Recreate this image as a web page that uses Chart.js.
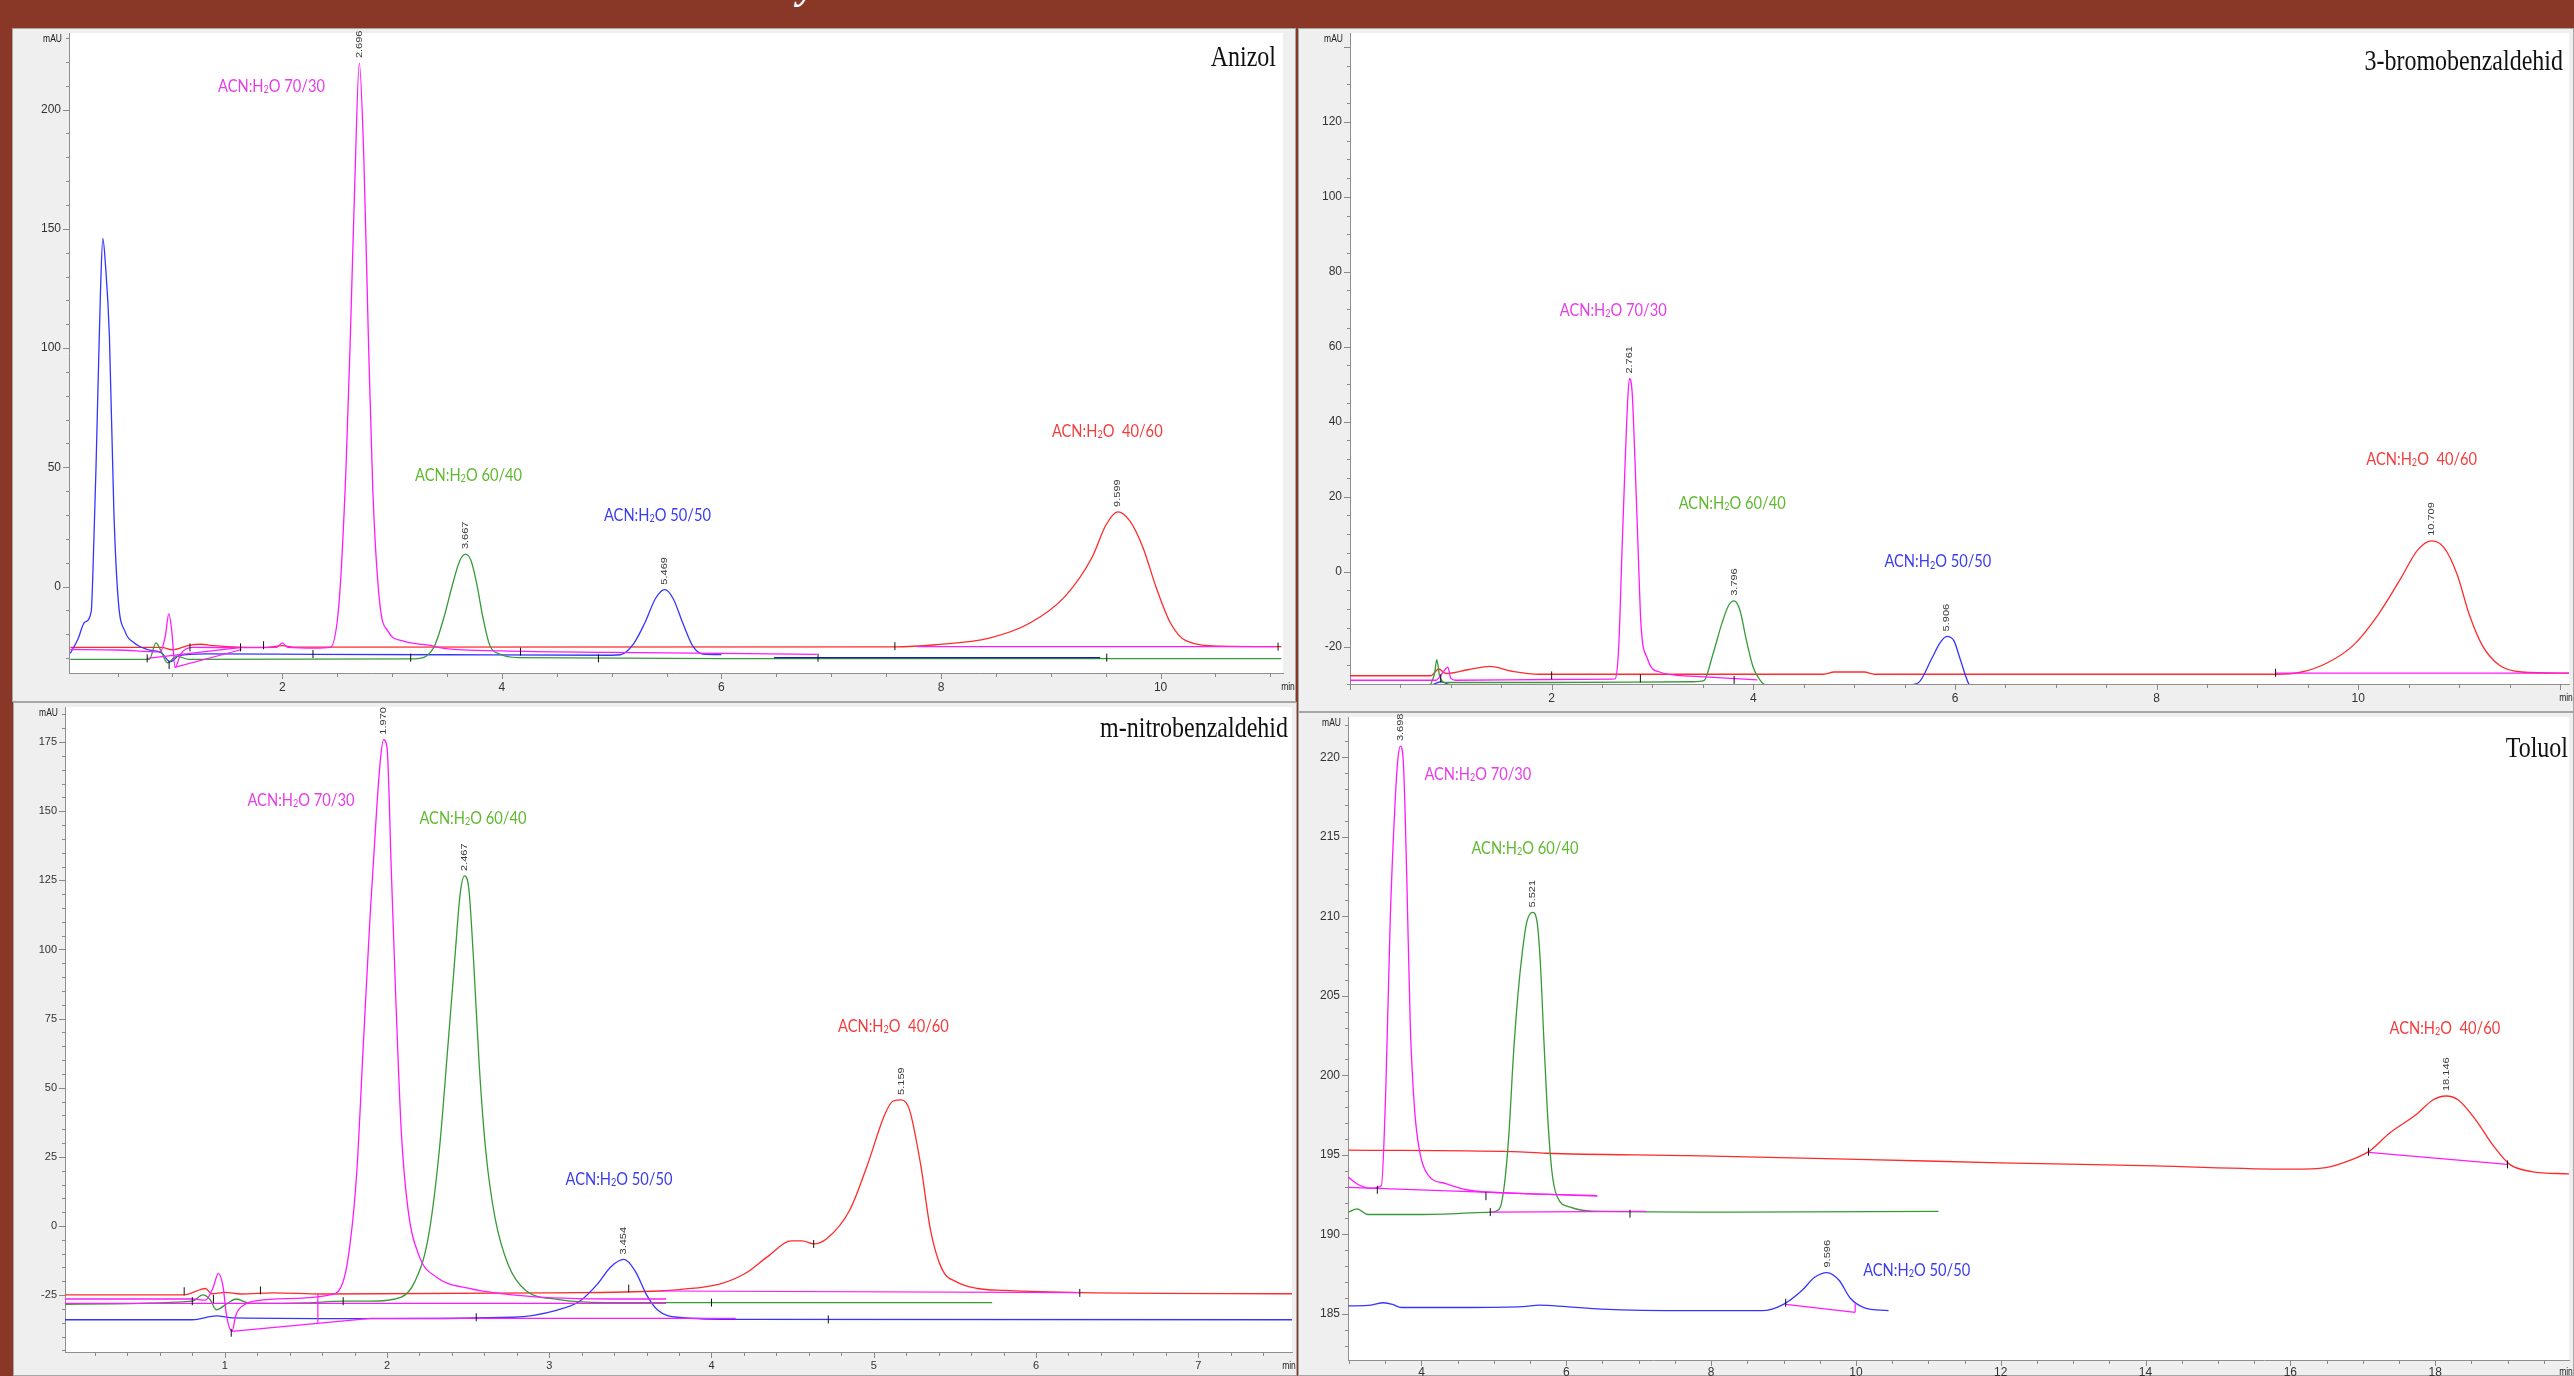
<!DOCTYPE html>
<html>
<head>
<meta charset="utf-8">
<title>HPLC chromatograms</title>
<script src="https://cdn.jsdelivr.net/npm/chart.js@4.4.1/dist/chart.umd.min.js"></script>
<style>
  html, body { margin: 0; padding: 0; }
  body { width: 2574px; height: 1376px; background: #893828; position: relative; overflow: hidden; }
  .panel { position: absolute; background: #efefef; box-shadow: inset 0 0 0 1px #a6a6a6; }
  .panel canvas { position: absolute; left: 0; top: 0; }
  #cut { position: absolute; left: 0; top: 0; width: 2574px; height: 28px; overflow: hidden; }
  #cut span { position: absolute; left: 798px; bottom: 23px; font: italic bold 40px "Liberation Serif", serif; color: #fff; line-height: 1; }
</style>
</head>
<body>
<div id="cut"><span>y</span></div>
<div class="panel" style="left:12px;top:28px;width:1284px;height:674px"><canvas id="c1" width="1284" height="674"></canvas></div>
<div class="panel" style="left:1298px;top:28px;width:1276px;height:684px"><canvas id="c2" width="1276" height="684"></canvas></div>
<div class="panel" style="left:13px;top:702px;width:1284px;height:674px"><canvas id="c3" width="1284" height="674"></canvas></div>
<div class="panel" style="left:1298px;top:712px;width:1276px;height:664px"><canvas id="c4" width="1276" height="664"></canvas></div>

<script>
// [time (min), signal (mAU)]
// order of the traces in every panel: 70/30, 60/40, 50/50, 40/60

// ---- Anizol ----
const anizolMag = [[0.07,-26.4],[0.5,-26.6],[0.89,-27.4],[0.935,-20.8],[0.967,-11.5],[0.995,-19],[1.024,-33.9],[1.076,-28.3],[1.18,-25.5],[1.6,-25.6],[1.95,-25.5],[2.0,-23.6],[2.05,-25.5],[2.3,-25.8],[2.438,-25.5],[2.519,-6],[2.581,49.9],[2.621,105.7],[2.662,170.8],[2.702,219.5],[2.743,180.1],[2.784,105.7],[2.825,40.6],[2.886,-6],[2.967,-19],[3.09,-22.7],[3.333,-24.6],[3.49,-26],[4.0,-27],[5.0,-27.6],[6.87,-28.4]];
const anizolGreen = [[0.07,-30.5],[0.79,-30.5],[0.85,-23.6],[0.89,-26.4],[0.955,-32],[1.04,-29.2],[1.15,-30.5],[3.2,-30.3],[3.31,-29.2],[3.39,-24.6],[3.47,-13.4],[3.555,1.5],[3.617,10.8],[3.67,13.6],[3.72,10.8],[3.77,1.5],[3.83,-13.4],[3.89,-24.6],[3.98,-28.3],[4.15,-29.8],[6.0,-30.2],[11.1,-30.2]];
const anizolBlue = [[0.07,-28],[0.14,-22],[0.2,-15],[0.26,-10.6],[0.285,20],[0.304,50],[0.324,87],[0.345,124],[0.366,146],[0.39,135],[0.426,105],[0.467,31],[0.507,-6],[0.57,-19],[0.65,-23.6],[0.77,-26.4],[0.9,-27.8],[0.98,-31.5],[1.06,-29],[1.3,-28.2],[2.3,-28.4],[3.5,-28.6],[5.0,-28.8],[5.08,-28.6],[5.2,-24],[5.3,-15.5],[5.4,-5],[5.484,-1.3],[5.56,-5],[5.65,-15.5],[5.74,-25],[5.83,-28.3],[6.0,-28.5]];
const anizolRed = [[0.07,-25.5],[0.9,-25.5],[1.0,-26.5],[1.14,-24.8],[1.26,-24.2],[1.38,-24.8],[1.6,-25.4],[1.85,-25.5],[2.0,-24.8],[2.1,-25.4],[7.58,-25.3],[7.95,-24.4],[8.44,-21.6],[8.81,-15.3],[9.13,-4.1],[9.38,12.6],[9.5,25.6],[9.61,31.3],[9.72,27.5],[9.84,16.3],[9.96,-0.4],[10.09,-15.3],[10.23,-22.7],[10.55,-25],[11.1,-25.2]];
const anizolBaseMag = [[[0.77,-30.1],[1.63,-25.5]], [[1.02,-33.9],[1.63,-26.4]], [[7.78,-25.2],[11.05,-25.2]]];
const anizolBaseBlue = [[[6.48,-29.8],[9.45,-29.8]]];
const anizolMarks = [[0.77,-30.1],[0.97,-32.9],[1.16,-25.5],[1.62,-25.5],[1.83,-24.6],[2.28,-28.3],[3.17,-29.8],[4.17,-27.3],[4.88,-30.1],[6.88,-29.8],[7.58,-25],[9.51,-29.8],[11.07,-25.2]];
const anizolPeaks = [[2.702,219.5,'2.696'],[3.67,13.6,'3.667'],[5.484,-1.3,'5.469'],[9.61,31.3,'9.599']];
const anizolMixAt = [[1.415,207.5],[3.21,44.2],[4.93,27.5],[9.01,62.9]];

// ---- 3-bromobenzaldehid ----
const bromoMag = [[0,-29],[0.85,-29],[0.92,-27],[0.97,-25.5],[1.0,-28.5],[1.05,-29],[2.0,-28.8],[2.6,-28.7],[2.63,-28.6],[2.666,-19.7],[2.696,4.1],[2.727,27.8],[2.754,45.6],[2.771,51.5],[2.798,47.9],[2.829,27.8],[2.86,4.1],[2.885,-13.7],[2.95,-23.2],[3.07,-26.8],[3.38,-27.9],[4.04,-28.9]];
const bromoGreen = [[0.8,-30.2],[0.84,-27],[0.86,-23.5],[0.89,-28],[0.95,-29.6],[2.0,-29.6],[3.4,-29.4],[3.51,-29.1],[3.6,-22],[3.69,-13.7],[3.756,-9],[3.81,-7.8],[3.866,-10.2],[3.933,-18.5],[4.0,-25.6],[4.09,-29.7],[4.15,-30.5]];
const bromoBlue = [[0.8,-30.5],[0.9,-29.4],[1.0,-30.2],[5.5,-30.3],[5.63,-29.8],[5.77,-23.2],[5.85,-19.1],[5.92,-17.3],[5.99,-18.5],[6.05,-23.2],[6.14,-30.1],[6.2,-31]];
const bromoRed = [[0,-27.8],[0.8,-27.8],[0.88,-26],[0.95,-27.2],[1.17,-26.2],[1.39,-25.3],[1.61,-26.6],[1.88,-27.4],[4.7,-27.4],[4.8,-26.8],[5.1,-26.8],[5.2,-27.4],[9.18,-27.4],[9.44,-26.8],[9.69,-24.4],[9.95,-19.7],[10.2,-11.4],[10.42,-1.9],[10.59,5.8],[10.73,8.2],[10.85,6.4],[10.98,-0.7],[11.1,-11.4],[11.23,-19.7],[11.4,-25],[11.62,-26.8],[12.09,-27.1]];
const bromoBaseMag = [[[9.18,-27.1],[12.09,-27.1]]];
const bromoMarks = [[0.9,-28.5],[2.0,-27.7],[2.88,-28.5],[3.81,-28.9],[9.18,-27]];
const bromoPeaks = [[2.771,51.5,'2.761'],[3.81,-7.8,'3.796'],[5.92,-17.3,'5.906'],[10.73,8.2,'10.709']];
const bromoMixAt = [[2.08,68.3],[3.26,16.7],[5.3,1.1],[10.08,28.4]];

// ---- m-nitrobenzaldehid ----
const nitroMag = [[0.015,-26.4],[0.8,-26.4],[0.88,-26.8],[0.93,-22],[0.96,-17.1],[0.99,-22],[1.01,-32],[1.044,-38.1],[1.07,-32],[1.12,-28.5],[1.2,-27],[1.5,-26],[1.648,-24.9],[1.703,-23.4],[1.758,-12.5],[1.813,18.8],[1.854,65.5],[1.896,112.3],[1.937,151.3],[1.959,168.4],[1.978,175.9],[2.0,173.1],[2.027,127.9],[2.055,81.1],[2.088,34.3],[2.129,6.3],[2.198,-10.8],[2.308,-18.6],[2.5,-22.5],[2.912,-25.6],[3.516,-26.4],[3.72,-26.4]];
const nitroGreen = [[0.015,-28.3],[0.8,-27.2],[0.865,-24.9],[0.907,-26.4],[0.948,-30.3],[1.016,-28],[1.07,-26.4],[1.154,-28],[1.5,-27.8],[1.73,-27.2],[1.896,-27.2],[2.088,-25.7],[2.17,-20.3],[2.253,-4.6],[2.321,26.5],[2.376,65.5],[2.418,96.7],[2.451,120.1],[2.478,126.6],[2.505,121.6],[2.533,96.7],[2.569,57.7],[2.61,26.5],[2.665,3.2],[2.747,-14],[2.857,-23.4],[3.05,-26.5],[3.35,-27.7],[5.73,-27.7]];
const nitroBlue = [[0.015,-33.9],[0.8,-33.9],[0.95,-32.5],[1.05,-33.2],[2.0,-33.5],[2.775,-33],[3.05,-30.4],[3.187,-27.2],[3.297,-21],[3.379,-14.8],[3.46,-12.1],[3.53,-16.3],[3.6,-24.9],[3.668,-30.4],[3.79,-33],[4.2,-33.8],[7.58,-33.9]];
const nitroRed = [[0.015,-24.9],[0.75,-24.9],[0.85,-23],[0.88,-22.6],[0.92,-24.5],[1.0,-24],[1.1,-24.6],[1.3,-24.2],[1.6,-24.6],[3.0,-24.2],[3.68,-23.5],[3.8,-23],[4.05,-21],[4.21,-17.1],[4.35,-10.9],[4.49,-5.4],[4.56,-5.4],[4.63,-6.5],[4.71,-4.6],[4.85,5.5],[4.96,21.9],[5.07,40.6],[5.12,45.2],[5.17,45.6],[5.22,42.1],[5.29,21.9],[5.35,-1.5],[5.42,-15.5],[5.51,-20.2],[5.64,-22.6],[5.81,-23.3],[6.28,-24.1],[7.58,-24.5]];
const nitroBaseMag = [[[0.015,-28.0],[3.72,-28.0]], [[1.044,-38.1],[1.9,-33.4]], [[1.9,-33.4],[4.15,-33.4]], [[1.574,-24.6],[1.574,-35]], [[3.68,-23.5],[6.27,-24.1]]];
const nitroMarks = [[0.75,-23.6],[0.8,-27.2],[0.93,-26.4],[1.04,-38.6],[1.22,-23.3],[1.73,-27.2],[2.55,-33],[3.49,-22.6],[4.0,-27.7],[4.63,-6.5],[4.72,-33.8],[6.27,-24.2]];
const nitroPeaks = [[1.978,175.9,'1.970'],[2.478,126.6,'2.467'],[3.46,-12.1,'3.454'],[5.17,45.6,'5.159']];
const nitroMixAt = [[1.14,151.9],[2.2,145.4],[3.1,14.8],[4.78,70.2]];

// ---- Toluol ----
const toluolMag = [[2.99,193.6],[3.1,193.2],[3.3,192.9],[3.446,193.06],[3.507,199.13],[3.569,209.9],[3.63,216.66],[3.674,219.9],[3.71,220.7],[3.753,219.36],[3.796,212.6],[3.845,203.17],[3.906,197.78],[3.98,195.08],[4.09,193.74],[4.336,193.19],[4.643,192.79],[5.258,192.59],[6.425,192.44]];
const toluolGreen = [[2.99,191.4],[3.11,191.6],[3.26,191.25],[4.03,191.25],[4.95,191.4],[5.073,191.58],[5.147,193.19],[5.209,196.43],[5.27,201.29],[5.332,205.06],[5.393,207.76],[5.455,209.65],[5.535,210.24],[5.596,209.65],[5.64,207.22],[5.689,202.37],[5.738,197.78],[5.8,194.0],[5.873,192.38],[6.057,191.71],[6.364,191.46],[8.33,191.4],[11.14,191.45]];
const toluolBlue = [[2.99,185.5],[3.3,185.55],[3.477,185.7],[3.6,185.6],[3.72,185.4],[4.64,185.4],[5.4,185.45],[5.63,185.55],[6.0,185.45],[6.49,185.3],[7.71,185.2],[8.7,185.2],[9.0,185.6],[9.25,186.45],[9.43,187.3],[9.6,187.6],[9.77,187.1],[9.92,186.0],[10.11,185.4],[10.45,185.2]];
const toluolRed = [[2.99,195.3],[5.26,195.2],[5.72,195.1],[7.71,194.95],[10.17,194.7],[11.99,194.5],[14.13,194.3],[16.02,194.1],[16.49,194.2],[16.85,194.7],[17.08,195.2],[17.38,196.4],[17.73,197.5],[17.97,198.45],[18.15,198.7],[18.32,198.45],[18.56,197.2],[18.8,195.6],[19.03,194.4],[19.33,193.95],[19.85,193.8]];
const toluolBaseMag = [[[2.99,192.95],[6.43,192.4]], [[4.95,191.4],[7.1,191.45]], [[9.03,185.6],[9.99,185.1]], [[9.99,185.1],[9.99,185.7]], [[17.08,195.15],[19.0,194.4]]];
const toluolMarks = [[3.39,192.8],[4.89,192.4],[4.95,191.4],[6.88,191.3],[9.03,185.7],[17.08,195.2],[19.0,194.4]];
const toluolPeaks = [[3.71,220.7,'3.698'],[5.535,210.24,'5.521'],[9.6,187.6,'9.596'],[18.15,198.7,'18.146']];
const toluolMixAt = [[4.04,218.6],[4.69,213.9],[10.1,187.4],[17.37,202.6]];

const mixRatios = ['70/30', '60/40', '50/50', ' 40/60'];
const mixColors = ['#e63ee6', '#5fb92f', '#3b3bf0', '#f23d3d'];
const traceColors = ['#ff1aff', '#379a37', '#3535ff', '#ff2b2b'];

const tickFamily = '"Liberation Sans Narrow", "Liberation Sans", Arial, sans-serif';

const panels = [
  { id: 'c1', title: 'Anizol', traces: [anizolMag, anizolGreen, anizolBlue, anizolRed],
    bases: [[anizolBaseMag, '#ff1aff'], [anizolBaseBlue, '#1a1ab0']], marks: anizolMarks,
    peaks: anizolPeaks, mixAt: anizolMixAt,
    x: { min: 0.058, max: 11.115, minor: 0.5, major: 2, labelMin: 1, labelMax: 11 },
    y: { min: -36.25, max: 232.1, minor: 10, major: 50, labelMax: 230 },
    box: { left: 57, top: 1, right: 13, bottom: 29 }, pad: 7, font: 12,
    titleAt: { dx: 7, dy: 33 } },
  { id: 'c2', title: '3-bromobenzaldehid', traces: [bromoMag, bromoGreen, bromoBlue, bromoRed],
    bases: [[bromoBaseMag, '#ff1aff']], marks: bromoMarks,
    peaks: bromoPeaks, mixAt: bromoMixAt,
    x: { min: 0, max: 12.09, minor: 0.5, major: 2, labelMin: 1, labelMax: 11.5 },
    y: { min: -30.0, max: 143.7, minor: 5, major: 20, labelMax: 130 },
    box: { left: 52, top: 2, right: 2, bottom: 28 }, pad: 7, font: 12,
    titleAt: { dx: 6, dy: 37 } },
  { id: 'c3', title: 'm-nitrobenzaldehid', traces: [nitroMag, nitroGreen, nitroBlue, nitroRed],
    bases: [[nitroBaseMag, '#ff1aff']], marks: nitroMarks,
    peaks: nitroPeaks, mixAt: nitroMixAt,
    x: { min: 0.0154, max: 7.578, minor: 0.2, major: 1, labelMin: 0.5, labelMax: 7.2 },
    y: { min: -45.57, max: 187.7, minor: 5, major: 25, labelMax: 180 },
    box: { left: 52, top: 5, right: 3, bottom: 24 }, pad: 7, font: 11,
    titleAt: { dx: 4, dy: 30 } },
  { id: 'c4', title: 'Toluol', traces: [toluolMag, toluolGreen, toluolBlue, toluolRed],
    bases: [[toluolBaseMag, '#ff1aff']], marks: toluolMarks,
    peaks: toluolPeaks, mixAt: toluolMixAt,
    x: { min: 2.985, max: 19.849, minor: 0.5, major: 2, labelMin: 3.5, labelMax: 19 },
    y: { min: 182.1, max: 222.53, minor: 1, major: 5, labelMax: 221 },
    box: { left: 50, top: 2, right: 0, bottom: 16 }, pad: 5, font: 12,
    titleAt: { dx: 1, dy: 40 } }
];

function onStep(v, step) {
  return Math.abs(v / step - Math.round(v / step)) < 1e-6;
}

function squeeze(ctx, text, x, y, sx, align) {
  ctx.save();
  ctx.translate(x, y);
  ctx.scale(sx, 1);
  ctx.textAlign = align;
  ctx.fillText(text, 0, 0);
  ctx.restore();
}

// "ACN:H2O 70/30" with a small 2
function mixParts(ratio) {
  return [['ACN:H', 1, 0], ['2', 0.62, 0.06], ['O ' + ratio, 1, 0]];
}
function drawMix(ctx, x, y, ratio, color, size, sx, measureOnly) {
  ctx.save();
  ctx.translate(x, y);
  ctx.scale(sx, 1);
  ctx.fillStyle = color;
  ctx.textAlign = 'left';
  ctx.textBaseline = 'alphabetic';
  let cx = 0;
  mixParts(ratio).forEach(([s, k, dy]) => {
    ctx.font = (size * k).toFixed(1) + 'px Lato, "Open Sans", sans-serif';
    if (!measureOnly) ctx.fillText(s, cx, dy * size);
    cx += ctx.measureText(s).width;
  });
  ctx.restore();
  return cx;
}

function overlay(p) {
  return {
    id: 'overlay_' + p.id,
    beforeDraw(chart) {
      const { ctx, chartArea: a } = chart;
      ctx.save();
      ctx.fillStyle = '#ffffff';
      ctx.fillRect(a.left, a.top, a.right - a.left, a.bottom - a.top);
      ctx.restore();
    },
    afterDraw(chart) {
      const { ctx, chartArea: a } = chart;
      const xs = chart.scales.x, ys = chart.scales.y;
      ctx.save();

      // tick marks, long ones where there is a label
      ctx.strokeStyle = '#8a8a8a';
      ctx.lineWidth = 1;
      ctx.beginPath();
      xs.ticks.forEach(t => {
        if (!onStep(t.value, p.x.minor)) return;
        const px = Math.round(xs.getPixelForValue(t.value)) + 0.5;
        const len = onStep(t.value, p.x.major) ? 6 : 4;
        ctx.moveTo(px, a.bottom);
        ctx.lineTo(px, a.bottom + len);
      });
      ys.ticks.forEach(t => {
        if (!onStep(t.value, p.y.minor)) return;
        const py = Math.round(ys.getPixelForValue(t.value)) + 0.5;
        const len = onStep(t.value, p.y.major) ? 6 : 3;
        ctx.moveTo(a.left, py);
        ctx.lineTo(a.left - len, py);
      });
      ctx.stroke();

      // axis units
      ctx.fillStyle = '#222';
      ctx.font = '10px "Liberation Sans", Arial, sans-serif';
      ctx.textBaseline = 'alphabetic';
      squeeze(ctx, 'mAU', a.left - 7, a.top + 9, 0.85, 'right');
      ctx.textBaseline = 'middle';
      squeeze(ctx, 'min', Math.min(a.right + 5, chart.width - 8), a.bottom + p.pad + 7, 0.85, 'center');

      // retention times above the peaks
      ctx.fillStyle = '#3a3a3a';
      ctx.font = '11px "Liberation Sans", Arial, sans-serif';
      p.peaks.forEach(([t, v, txt]) => {
        const px = xs.getPixelForValue(t), py = ys.getPixelForValue(v);
        ctx.save();
        ctx.translate(px, py - 5);
        ctx.rotate(-Math.PI / 2);
        ctx.scale(1, 0.85);
        ctx.textAlign = 'left';
        ctx.textBaseline = 'middle';
        ctx.fillText(txt, 0, 0);
        ctx.restore();
      });

      // mobile phase labels
      const size = 18;
      const sx = 107 / drawMix(ctx, 0, 0, mixRatios[0], '#000', size, 1, true);
      p.mixAt.forEach(([t, v], i) => {
        drawMix(ctx, xs.getPixelForValue(t), ys.getPixelForValue(v), mixRatios[i], mixColors[i], size, sx, false);
      });

      // compound name
      ctx.fillStyle = '#111';
      ctx.font = '30px "Liberation Serif", "Times New Roman", serif';
      ctx.textBaseline = 'alphabetic';
      squeeze(ctx, p.title, a.right - p.titleAt.dx, a.top + p.titleAt.dy, 0.8, 'right');

      ctx.restore();
    }
  };
}

function build(p) {
  const datasets = [];
  // integration marks (short vertical ticks)
  datasets.push({
    type: 'scatter',
    data: p.marks.map(q => ({ x: q[0], y: q[1] })),
    pointStyle: 'line', rotation: 90, pointRadius: 4, borderColor: '#111', borderWidth: 1,
    showLine: false, order: 0
  });
  p.bases.forEach(([lines, color]) => {
    lines.forEach(seg => datasets.push({
      data: seg.map(q => ({ x: q[0], y: q[1] })),
      borderColor: color, borderWidth: 1.2, pointRadius: 0, tension: 0, order: 1
    }));
  });
  p.traces.forEach((tr, i) => datasets.push({
    data: tr.map(q => ({ x: q[0], y: q[1] })),
    borderColor: traceColors[i], borderWidth: 1.3, pointRadius: 0,
    cubicInterpolationMode: 'monotone', order: i + 2
  }));

  const tickLabel = (major, labelMin, labelMax) => function (value) {
    return onStep(value, major) && value >= labelMin && value <= labelMax ? String(Math.round(value)) : '';
  };

  new Chart(document.getElementById(p.id), {
    type: 'line',
    data: { datasets },
    options: {
      responsive: false,
      animation: false,
      events: [],
      layout: { padding: { left: 0, top: p.box.top, right: p.box.right, bottom: 0 } },
      plugins: { legend: { display: false }, tooltip: { enabled: false } },
      scales: {
        x: {
          type: 'linear', min: p.x.min, max: p.x.max,
          border: { display: true, color: '#8f8f8f', width: 1 },
          grid: { display: false, drawTicks: false },
          ticks: {
            stepSize: p.x.minor, autoSkip: false, maxRotation: 0, includeBounds: false,
            padding: p.pad, color: '#333', font: { family: tickFamily, size: p.font },
            callback: tickLabel(p.x.major, p.x.labelMin, p.x.labelMax)
          },
          afterFit: s => { s.height = p.box.bottom; s.paddingLeft = 0; s.paddingRight = 0; }
        },
        y: {
          type: 'linear', min: p.y.min, max: p.y.max,
          border: { display: true, color: '#8f8f8f', width: 1 },
          grid: { display: false, drawTicks: false },
          ticks: {
            stepSize: p.y.minor, autoSkip: false, includeBounds: false,
            padding: 8, color: '#333', font: { family: tickFamily, size: p.font, lineHeight: 0.2 },
            callback: tickLabel(p.y.major, -Infinity, p.y.labelMax)
          },
          afterFit: s => { s.width = p.box.left; s.paddingTop = 0; s.paddingBottom = 0; }
        }
      }
    },
    plugins: [overlay(p)]
  });
}

panels.forEach(build);
</script>
</body>
</html>
